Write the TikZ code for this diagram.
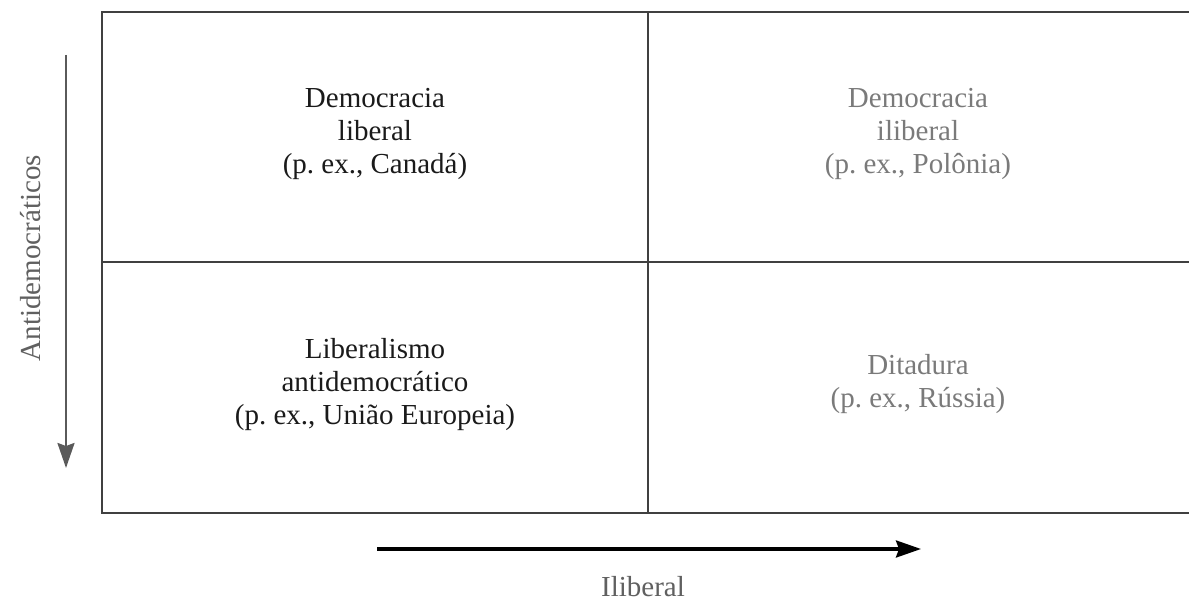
\documentclass[tikz,border=0pt]{standalone}
\usepackage{fontspec}
\setmainfont{Liberation Serif}
\usetikzlibrary{arrows.meta}
\definecolor{gridc}{HTML}{404040}
\definecolor{darktext}{HTML}{1A1A1A}
\definecolor{lighttext}{HTML}{7A7A7A}
\definecolor{axistext}{HTML}{606060}
\definecolor{varrow}{HTML}{5A5A5A}
\tikzset{
  cell/.style={align=center, font=\fontsize{14.5pt}{16.5pt}\selectfont\frenchspacing, inner sep=0pt},
  darkcell/.style={cell, text=darktext},
  lightcell/.style={cell, text=lighttext},
  gridline/.style={draw=gridc, line width=1.15pt},
  axislabel/.style={font=\fontsize{14.5pt}{16.5pt}\selectfont, text=axistext, inner sep=0pt},
}
\begin{document}
\begin{tikzpicture}[x=0.5pt, y=-0.5pt]
\useasboundingbox (0,0) rectangle (1189,603);
% grid
\coordinate (tl) at (102,12);
\coordinate (tr) at (1188.5,12);
\coordinate (bl) at (102,513);
\coordinate (br) at (1188.5,513);
\draw[gridline] (tr) -- (tl) -- (bl) -- (br);
\draw[gridline] (648,12) -- (648,513);
\draw[gridline] (102,262) -- (1188.5,262);
% cells
\node[darkcell] (dl) at (375,134) {Democracia\\liberal\\(p. ex., Canadá)};
\node[lightcell] (di) at (918,134) {Democracia\\iliberal\\(p. ex., Polônia)};
\node[darkcell] (la) at (375,385) {Liberalismo\\antidemocrático\\(p. ex., União Europeia)};
\node[lightcell] (dt) at (918,384) {Ditadura\\(p. ex., Rússia)};
% axes
\coordinate (vs) at (66,55);
\coordinate (ve) at (66,468);
\draw[draw=varrow, line width=1.1pt, -{Stealth[length=12.5pt, width=8.5pt, inset=1.5pt]}, color=varrow] (vs) -- (ve);
\node[axislabel, rotate=90] (al) at (31,258) {Antidemocráticos};
\coordinate (hs) at (377,549);
\coordinate (he) at (921,549);
\draw[line width=1.6pt, -{Stealth[length=12.5pt, width=8.5pt, inset=1.5pt]}, black] (hs) -- (he);
\node[axislabel] (il) at (643,587) {Iliberal};
\end{tikzpicture}
\end{document}
